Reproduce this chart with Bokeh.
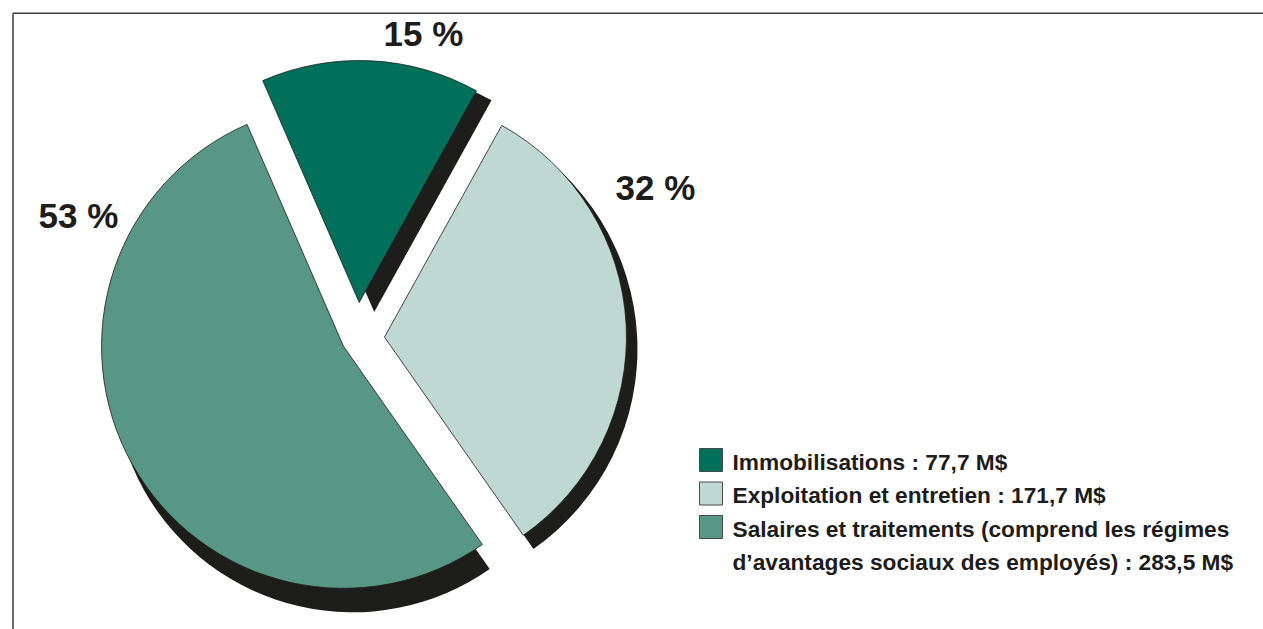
import numpy as np
from bokeh.plotting import figure
from bokeh.models import ColumnDataSource, Range1d
from bokeh.core.properties import value
from bokeh.embed import file_html
from bokeh.resources import INLINE

# ---------------- data ----------------
categories = [
    "Immobilisations",
    "Exploitation et entretien",
    "Salaires et traitements (comprend les régimes\nd’avantages sociaux des employés)",
]
amounts = [77.7, 171.7, 283.5]  # M$
colors = ["#00705a", "#bfd8d2", "#589686"]

# ---------------- layout / style ----------------
W, H = 1263, 629
PAGE_H = 629
FONT = "Liberation Sans"
DARK = "#1d1d1b"


def Y(py):
    """screen pixel row -> data y"""
    return PAGE_H - py


center_px = (357, 338)
radius = 242
start_deg = 113.5
explode = np.array([36, 27, 16])
shadow_off = np.array([(15, 9.5), (9, 12), (9, 27)])  # px right, px down
shadow_dr = np.array([0, 2, -3])                      # radius change
pct_label_px = [(423, 33), (655, 187), (78, 215)]
legend_sq_x, legend_text_x = 710.5, 732
legend_row0, legend_step = 461, 33.5
legend_sq = 23

# ---------------- computations ----------------
total = sum(amounts)
fr = np.array(amounts) / total
upper = start_deg - 360 * np.concatenate([[0], np.cumsum(fr)[:-1]])
lower = upper - 360 * fr
mid = np.radians((upper + lower) / 2)
cx = center_px[0] + explode * np.cos(mid)
cy = Y(center_px[1]) + explode * np.sin(mid)

slices = ColumnDataSource(dict(
    x=cx, y=cy,
    start=np.radians(lower), end=np.radians(upper),
    color=colors,
))
shadows = ColumnDataSource(dict(
    x=cx + shadow_off[:, 0], y=cy - shadow_off[:, 1],
    r=radius + shadow_dr,
    start=np.radians(lower), end=np.radians(upper),
))

p = figure(width=W, height=H, x_range=Range1d(0, W),
           y_range=Range1d(PAGE_H - H, PAGE_H),
           output_backend="svg", toolbar_location=None, min_border=0)
p.axis.visible = False
p.grid.visible = False
p.outline_line_color = None
p.background_fill_color = "white"
p.border_fill_color = "white"

# frame lines (top and left)
p.segment(x0=[12.5, 12.5], y0=[Y(12.7), Y(12.7)], x1=[1263, 12.5], y1=[Y(12.7), Y(640)],
          line_color="#3a3a3a", line_width=1.5)

# shadows
p.wedge(x="x", y="y", radius="r", start_angle="start", end_angle="end",
        direction="anticlock", source=shadows, fill_color=DARK, line_color=None)
# slices
p.wedge(x="x", y="y", radius=radius, start_angle="start", end_angle="end",
        direction="anticlock", source=slices, fill_color="color",
        line_color=DARK, line_width=0.8)

# percentage labels
pct = ColumnDataSource(dict(
    x=[q[0] for q in pct_label_px], y=[Y(q[1]) for q in pct_label_px],
    text=[f"{round(f * 100)} %" for f in fr],
))
p.text(x="x", y="y", text="text", source=pct, text_font=value(FONT),
       text_font_style="bold", text_font_size="35px", text_color=DARK,
       text_align="center", text_baseline="middle")

# legend
sq_x, sq_y, sq_c, tx, ty, tt = [], [], [], [], [], []
row = 0
for name, amt, col in zip(categories, amounts, colors):
    lines = name.split("\n")
    sq_x.append(legend_sq_x)
    sq_y.append(Y(legend_row0 + row * legend_step - 1.5))
    sq_c.append(col)
    for i, ln in enumerate(lines):
        if i == len(lines) - 1:
            ln = f"{ln} : {amt:.1f} M$".replace(".", ",")
        tx.append(legend_text_x)
        ty.append(Y(legend_row0 + row * legend_step))
        tt.append(ln)
        row += 1

p.rect(x=sq_x, y=sq_y, width=legend_sq, height=legend_sq, fill_color=sq_c,
       line_color="#4a4a4a", line_width=1)
p.text(x=tx, y=ty, text=tt, text_font=value(FONT), text_font_style="bold",
       text_font_size="22.7px", text_color=DARK, text_align="left",
       text_baseline="middle")

open("out.html", "w").write(file_html(p, INLINE))
